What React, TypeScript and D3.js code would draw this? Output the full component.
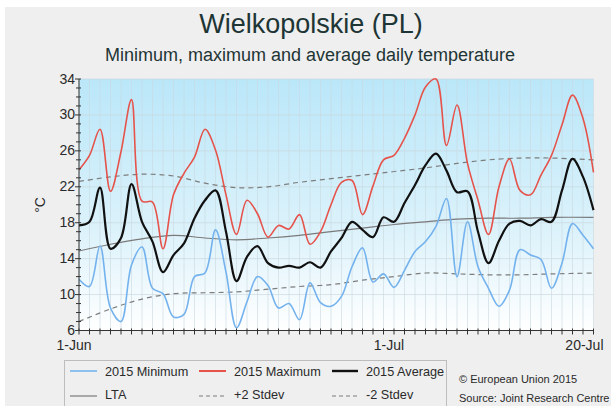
import React from "react";
import * as d3 from "d3";

const dayLabels = ["1-Jun", "1-Jul", "20-Jul"];
const dayLabelIdx = [0, 30, 49];
const yTicks = [6, 10, 14, 18, 22, 26, 30, 34];

const minT = [11.7, 10.9, 15.4, 8.5, 7.0, 13.3, 15.3, 10.7, 10.1, 7.5, 7.8, 12.0, 12.4, 17.2, 12.5, 6.3, 9.2, 12.0, 11.0, 8.5, 9.0, 7.2, 11.3, 9.1, 8.7, 9.8, 13.1, 15.2, 11.4, 12.3, 10.8, 12.7, 14.8, 15.9, 17.6, 20.7, 12.0, 18.1, 13.1, 10.7, 8.7, 10.5, 15.0, 14.4, 13.9, 10.7, 13.5, 17.9, 16.6, 15.1];
const maxT = [23.9, 25.5, 28.4, 21.5, 25.9, 31.7, 20.4, 20.3, 15.1, 21.1, 23.5, 25.3, 28.4, 26.1, 21.1, 16.7, 20.5, 19.0, 16.4, 17.7, 17.3, 18.9, 15.6, 17.0, 20.0, 22.5, 22.7, 18.9, 22.1, 25.0, 25.5, 27.4, 30.0, 33.1, 34.0, 26.6, 31.1, 24.6, 20.5, 16.7, 22.0, 25.1, 21.6, 21.1, 23.3, 25.5, 28.9, 32.2, 29.6, 23.6];
const avgT = [17.7, 18.1, 21.9, 15.1, 16.3, 22.3, 18.1, 15.9, 12.5, 14.4, 15.7, 18.5, 20.5, 21.6, 17.0, 11.5, 14.2, 15.4, 13.5, 13.0, 13.2, 13.0, 13.6, 13.0, 14.8, 16.3, 18.1, 17.2, 16.4, 18.6, 18.1, 20.2, 22.2, 24.4, 25.7, 23.8, 21.4, 21.5, 17.0, 13.5, 16.0, 17.9, 18.2, 17.7, 18.4, 18.1, 21.6, 25.1, 23.1, 19.4];

const refDays = [0, 3, 6, 9, 12, 15, 18, 21, 24, 27, 30, 33, 36, 39, 42, 45, 49];
const ltaT = [14.85, 15.6, 16.2, 16.6, 16.3, 16.1, 16.3, 16.6, 17.0, 17.4, 17.8, 18.1, 18.4, 18.5, 18.5, 18.6, 18.6];
const plus2T = [22.6, 23.1, 23.4, 23.2, 22.4, 21.9, 22.0, 22.5, 22.9, 23.3, 23.7, 24.1, 24.6, 25.0, 25.2, 25.2, 25.0];
const minus2T = [7.0, 8.4, 9.5, 10.1, 10.2, 10.3, 10.6, 10.9, 11.1, 11.6, 12.0, 12.4, 12.3, 12.2, 12.2, 12.3, 12.4];

const W = 611;
const H = 406;
const FONT = "'Liberation Sans', Arial, sans-serif";

export default function App() {
  const x = d3.scaleLinear().domain([0, 49]).range([79, 593.5]);
  const y = d3.scaleLinear().domain([6, 34]).range([330.5, 79]);
  const [x0, x1] = x.range();
  const [yb, yt] = y.range();

  const line = (vals: number[], days?: number[]) =>
    d3
      .line<number>()
      .x((d, i) => x(days ? days[i] : i))
      .y((d) => y(d))
      .curve(d3.curveCatmullRom.alpha(0.5))(vals) || "";

  const days = d3.range(0, 50);
  const minorY = d3.range(6, 35);

  return (
    <svg
      width={W}
      height={H}
      style={{ position: "absolute", left: 0, top: 0 }}
      fontFamily={FONT}
    >
      <defs>
        <linearGradient id="bg" x1="0" y1="0" x2="0" y2="1">
          <stop offset="0" stopColor="#bae7f9" />
          <stop offset="0.6" stopColor="#dcf2fb" />
          <stop offset="1" stopColor="#ffffff" />
        </linearGradient>
        <clipPath id="clip">
          <rect x={x0} y={yt - 2} width={x1 - x0 + 2} height={yb - yt + 2} />
        </clipPath>
      </defs>
      <rect x={0} y={0} width={W} height={H} fill="#ffffff" />
      <rect x={5} y={7} width={W - 5} height={H - 7} fill="#efefef" />
      <text x={311} y={33} textAnchor="middle" fontSize={27} fill="#1e3535">
        Wielkopolskie (PL)
      </text>
      <text x={310} y={61} textAnchor="middle" fontSize={18} fill="#1e3535">
        Minimum, maximum and average daily temperature
      </text>

      <rect x={x0} y={yt} width={x1 - x0} height={yb - yt} fill="url(#bg)" />
      {days.map((d) => (
        <line key={"vg" + d} x1={x(d)} x2={x(d)} y1={yt} y2={yb} stroke="#c9d9e0" strokeOpacity={0.6} strokeWidth={1} />
      ))}
      {yTicks.map((t) => (
        <line key={"hg" + t} x1={x0} x2={x1} y1={y(t)} y2={y(t)} stroke="#c9d9e0" strokeOpacity={0.7} strokeWidth={1} />
      ))}

      <g clipPath="url(#clip)" fill="none">
        <path d={line(plus2T, refDays)} stroke="#7d7d7d" strokeWidth={1.2} strokeDasharray="5,4" />
        <path d={line(minus2T, refDays)} stroke="#7d7d7d" strokeWidth={1.2} strokeDasharray="5,4" />
        <path d={line(ltaT, refDays)} stroke="#7a7a7a" strokeWidth={1.2} />
        <path d={line(minT)} stroke="#74b2ee" strokeWidth={1.6} />
        <path d={line(maxT)} stroke="#e5534b" strokeWidth={1.6} />
        <path d={line(avgT)} stroke="#111111" strokeWidth={2.2} />
      </g>

      <line x1={x0} x2={x0} y1={yt} y2={yb} stroke="#333" strokeWidth={1} />
      <line x1={x0} x2={x1} y1={yb} y2={yb} stroke="#333" strokeWidth={1} />
      {minorY.map((t) => (
        <line key={"my" + t} x1={x0 - (t % 4 === 2 ? 4 : 3)} x2={x0 + 2} y1={y(t)} y2={y(t)} stroke="#333" strokeWidth={1} />
      ))}
      {yTicks.map((t) => (
        <text key={"yl" + t} x={75} y={y(t) + 4.5} textAnchor="end" fontSize={14} fill="#2a2a2a">
          {t}
        </text>
      ))}
      {days.map((d) => (
        <line key={"xt" + d} x1={x(d)} x2={x(d)} y1={yb - 2} y2={yb + 4} stroke="#333" strokeWidth={1} />
      ))}
      {dayLabels.map((l, i) => (
        <text
          key={l}
          x={i === 2 ? x(dayLabelIdx[i]) + 10 : x(dayLabelIdx[i]) - 5}
          y={350}
          textAnchor={i === 2 ? "end" : "middle"}
          fontSize={14}
          fill="#2a2a2a"
        >
          {l}
        </text>
      ))}
      <text transform="translate(45,205) rotate(-90)" textAnchor="middle" fontSize={14} fill="#2a2a2a">
        °C
      </text>

      <rect x={64.5} y={360.5} width={382} height={50} fill="none" stroke="#bdbdbd" strokeWidth={1} />
      <g fontSize={12.7} fill="#2a2a2a">
        <line x1={70} x2={97} y1={371} y2={371} stroke="#8cc0ee" strokeWidth={2} />
        <text x={105} y={375.5}>2015 Minimum</text>
        <line x1={199} x2={226} y1={371} y2={371} stroke="#e5534b" strokeWidth={2} />
        <text x={234} y={375.5}>2015 Maximum</text>
        <line x1={332} x2={358} y1={371} y2={371} stroke="#111" strokeWidth={2.4} />
        <text x={366} y={375.5}>2015 Average</text>
        <line x1={70} x2={97} y1={396} y2={396} stroke="#7a7a7a" strokeWidth={1.2} />
        <text x={105} y={398.5}>LTA</text>
        <line x1={199} x2={226} y1={396} y2={396} stroke="#7d7d7d" strokeWidth={1.2} strokeDasharray="4,3" />
        <text x={234} y={398.5}>+2 Stdev</text>
        <line x1={332} x2={358} y1={396} y2={396} stroke="#7d7d7d" strokeWidth={1.2} strokeDasharray="4,3" />
        <text x={366} y={398.5}>-2 Stdev</text>
      </g>
      <text x={459} y={383} fontSize={11} fill="#2a2a2a">© European Union 2015</text>
      <text x={459} y={402} fontSize={11} fill="#2a2a2a">Source: Joint Research Centre</text>
    </svg>
  );
}
